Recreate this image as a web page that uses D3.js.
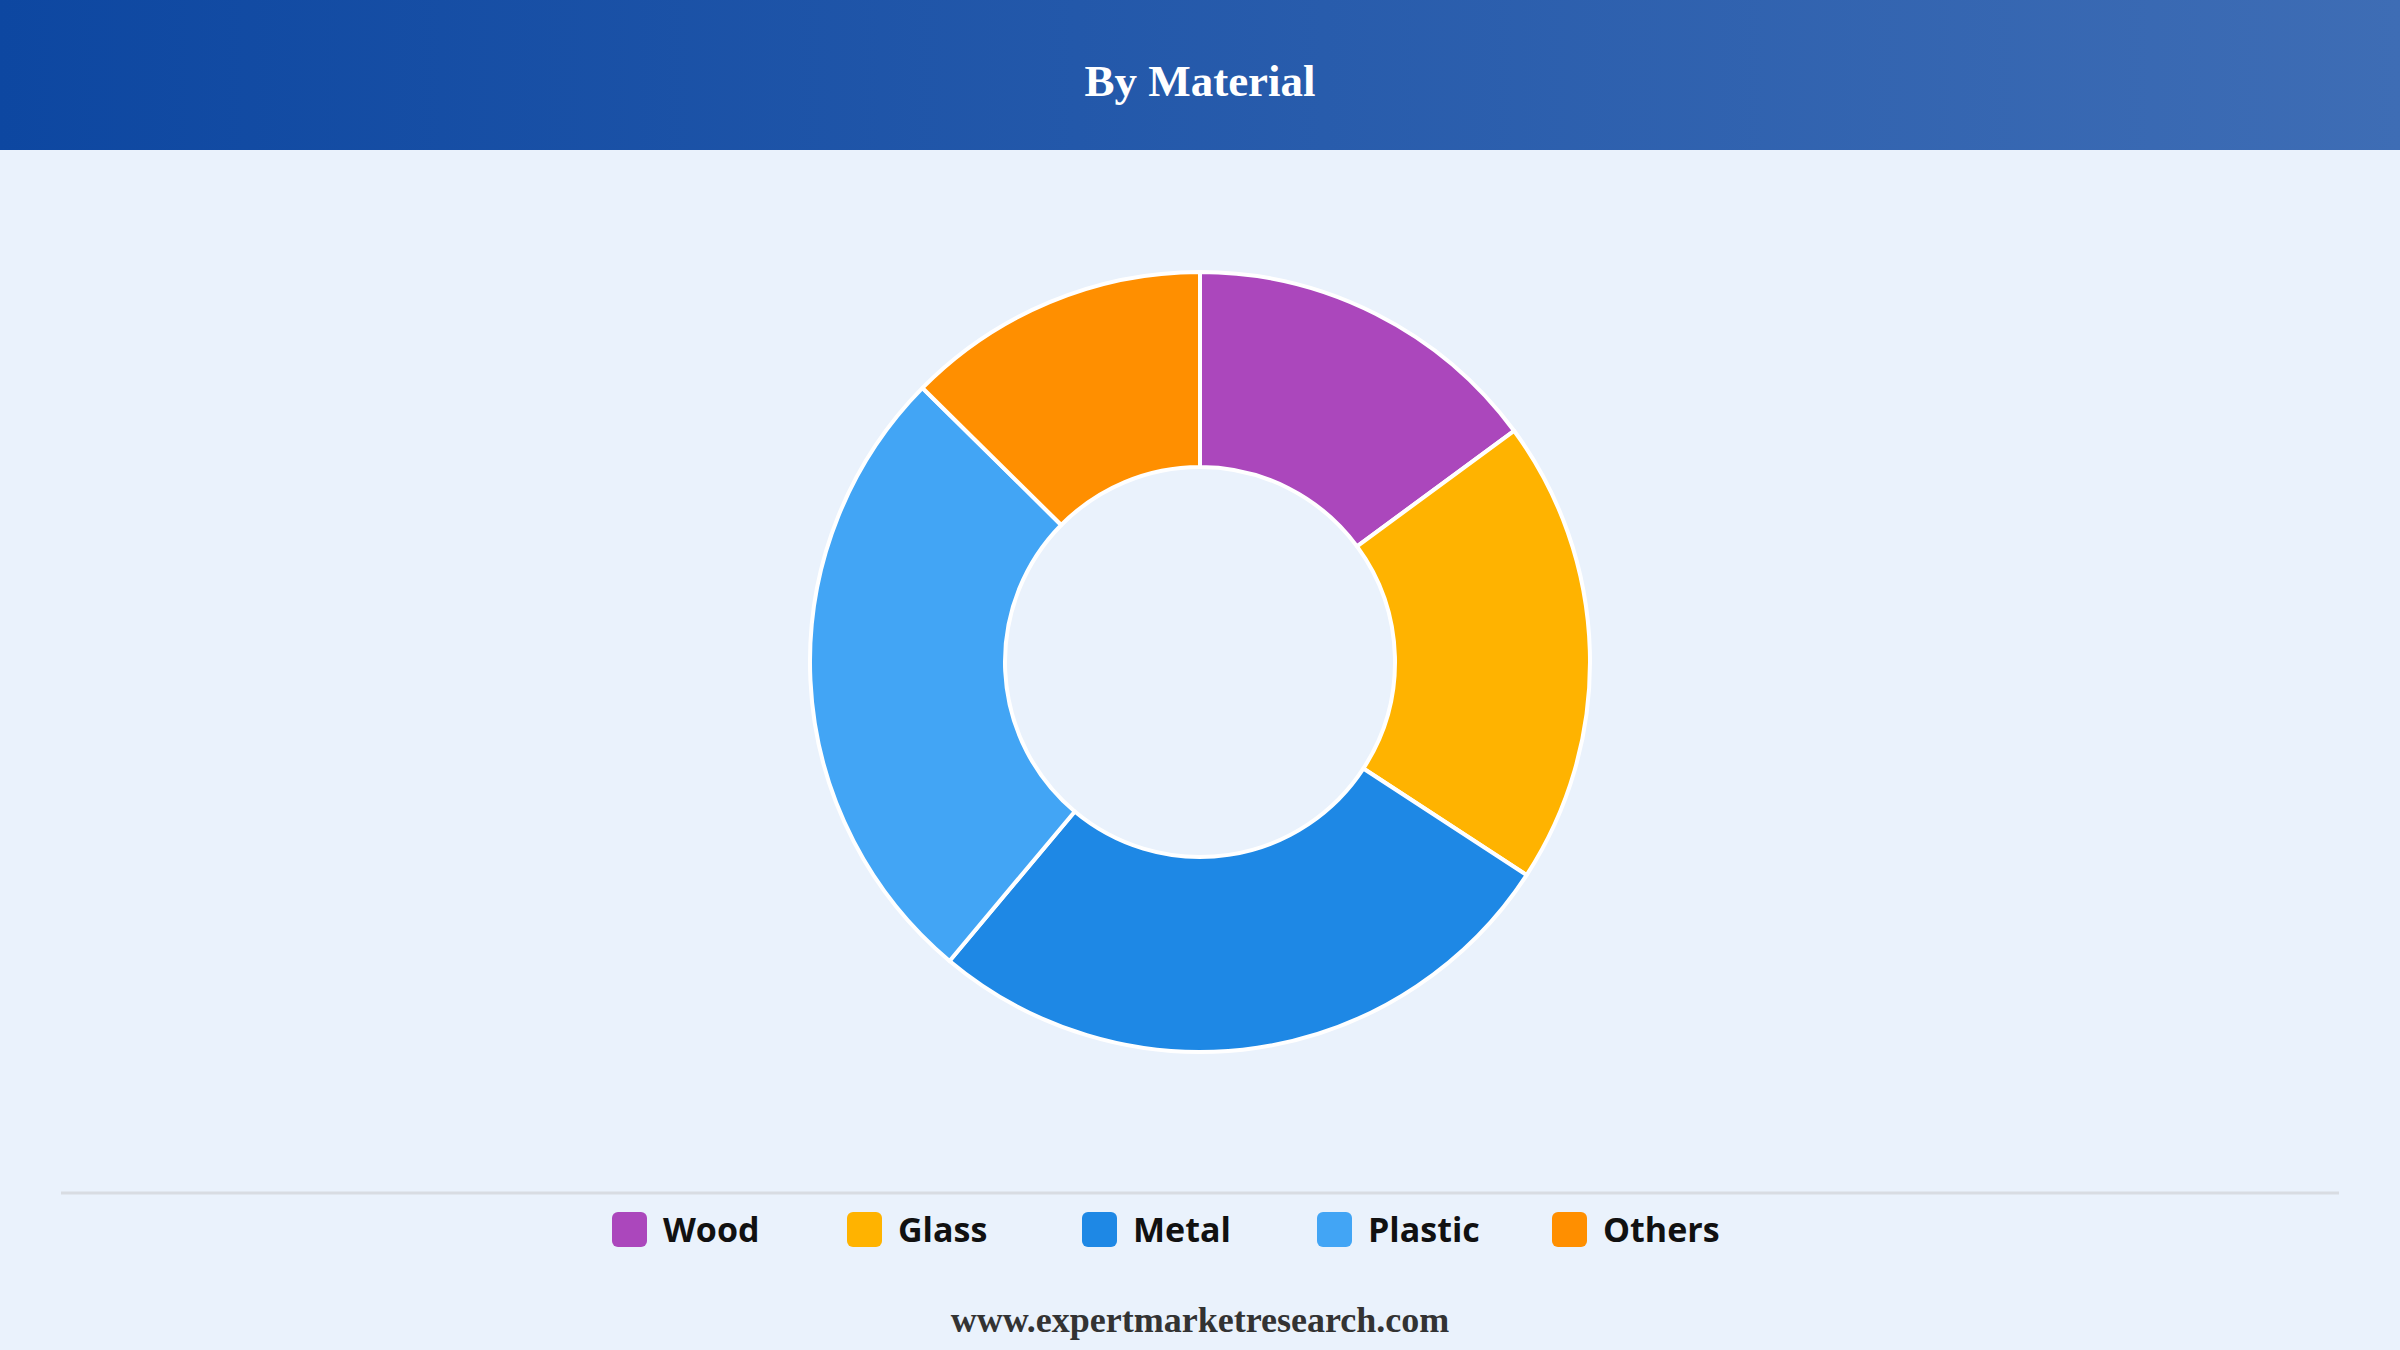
<!DOCTYPE html>
<html>
<head>
<meta charset="utf-8">
<script src="https://cdn.jsdelivr.net/npm/d3@7"></script>
<style>
  html, body { margin: 0; padding: 0; background: #EAF2FC; }
  svg { display: block; }
</style>
</head>
<body>
<svg id="chart" width="2400" height="1350"></svg>
<script>
const categories = ["Wood", "Glass", "Metal", "Plastic", "Others"];
const values = [14.9, 19.3, 26.9, 26.3, 12.6];
const colors = ["#AB47BC", "#FFB300", "#1E88E5", "#42A5F5", "#FF8F00"];
const title = "By Material";
const footer = "www.expertmarketresearch.com";

const W = 2400, H = 1350;
const svg = d3.select("#chart");

// background
svg.append("rect").attr("width", W).attr("height", H).attr("fill", "#EAF2FC");

// header gradient
const defs = svg.append("defs");
const grad = defs.append("linearGradient").attr("id", "hdr").attr("x1", "0%").attr("x2", "100%").attr("y1", "0%").attr("y2", "0%");
grad.append("stop").attr("offset", "0%").attr("stop-color", "#0D47A1");
grad.append("stop").attr("offset", "100%").attr("stop-color", "#3E6DB5");
svg.append("rect").attr("x", 0).attr("y", 0).attr("width", W).attr("height", 150).attr("fill", "url(#hdr)");
svg.append("text").attr("x", W / 2).attr("y", 96).attr("text-anchor", "middle")
  .attr("font-family", "'Liberation Serif', 'Times New Roman', serif").attr("font-weight", "bold")
  .attr("font-size", 45).attr("fill", "#ffffff").text(title);

// donut
const cx = 1200, cy = 662, rOuter = 390, rInner = 195;
const pie = d3.pie().value(d => d.v).sort(null);
const arc = d3.arc().innerRadius(rInner).outerRadius(rOuter);
const data = categories.map((c, i) => ({ c, v: values[i], col: colors[i] }));
const g = svg.append("g").attr("transform", `translate(${cx},${cy})`);
g.selectAll("path").data(pie(data)).join("path")
  .attr("d", arc)
  .attr("fill", d => d.data.col)
  .attr("stroke", "#ffffff")
  .attr("stroke-width", 4)
  .attr("stroke-linejoin", "round");

// separator
svg.append("line").attr("x1", 61).attr("x2", 2339).attr("y1", 1193).attr("y2", 1193)
  .attr("stroke", "#D8DCE2").attr("stroke-width", 3);

// legend
const legendX = d3.scalePoint().domain(categories).range([612, 1552]);
const lg = svg.append("g").selectAll("g").data(data).join("g")
  .attr("transform", d => `translate(${legendX(d.c)},1212)`);
lg.append("rect").attr("width", 35).attr("height", 35).attr("rx", 6).attr("ry", 6)
  .attr("fill", d => d.col);
lg.append("text").attr("x", 51).attr("y", 30)
  .attr("font-family", "'Open Sans', 'Noto Sans', sans-serif").attr("font-weight", "bold")
  .attr("font-size", 34).attr("fill", "#111111").text(d => d.c);

// footer
svg.append("text").attr("x", W / 2).attr("y", 1332).attr("text-anchor", "middle")
  .attr("font-family", "'Liberation Serif', 'Times New Roman', serif").attr("font-weight", "bold")
  .attr("font-size", 36).attr("fill", "#333333").text(footer);
</script>
</body>
</html>
